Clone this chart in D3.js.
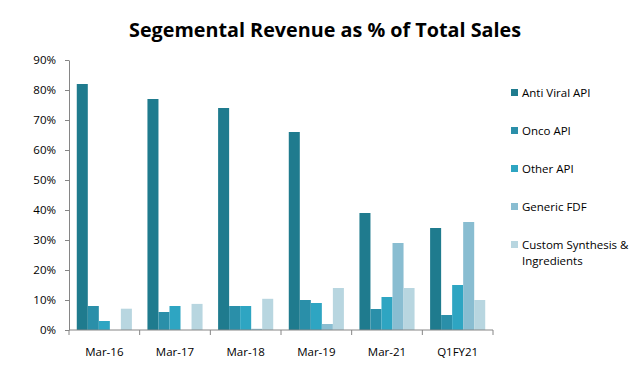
<!DOCTYPE html>
<html>
<head>
<meta charset="utf-8">
<script src="https://cdn.jsdelivr.net/npm/d3@7"></script>
<style>
  body { margin: 0; background: #fff; }
  text { font-family: "Open Sans", "Liberation Sans", sans-serif; }
</style>
</head>
<body>
<div id="mychart"></div>
<script>
// data (% of total sales)
var periods = ["Mar-16", "Mar-17", "Mar-18", "Mar-19", "Mar-21", "Q1FY21"];
var segments = ["Anti Viral API", "Onco API", "Other API", "Generic FDF", "Custom Synthesis & Ingredients"];
var antiViral = [82, 77, 74, 66, 39, 34];
var onco      = [8, 6, 8, 10, 7, 5];
var otherApi  = [3, 8, 8, 9, 11, 15];
var generic   = [0, 0, 0.4, 2, 29, 36];
var custom    = [7.1, 8.7, 10.4, 14, 14, 10];
var yTicks = [0, 10, 20, 30, 40, 50, 60, 70, 80, 90];
var colors = ["#1f7b8e", "#2a8fa9", "#2ea5c2", "#89bdd1", "#b8d6e0"];

var series = [antiViral, onco, otherApi, generic, custom];

var W = 639, H = 373;
var margin = {left: 69, right: 146, top: 60, bottom: 43};
var width = W - margin.left - margin.right,
    height = H - margin.top - margin.bottom;

var svg = d3.select("#mychart")
  .append("svg")
    .attr("width", W)
    .attr("height", H);

// title
svg.append("text")
  .attr("x", 325)
  .attr("y", 37)
  .attr("text-anchor", "middle")
  .attr("font-size", 20)
  .attr("font-weight", "bold")
  .attr("textLength", 392)
  .attr("lengthAdjust", "spacingAndGlyphs")
  .text("Segemental Revenue as % of Total Sales");

var g = svg.append("g")
  .attr("transform", "translate(" + margin.left + "," + margin.top + ")");

var x0 = d3.scaleBand().domain(periods).range([0, width]).paddingInner(0.22).paddingOuter(0.11);
var x1 = d3.scaleBand().domain(d3.range(segments.length)).range([0, x0.bandwidth()]);
var y = d3.scaleLinear().domain([0, 90]).range([height, 0]);

// bars
var groups = g.selectAll(".grp")
  .data(periods)
  .enter().append("g")
    .attr("class", "grp")
    .attr("transform", function(d) { return "translate(" + x0(d) + ",0)"; });

groups.selectAll("rect")
  .data(function(d, i) { return series.map(function(s, k) { return {k: k, v: s[i]}; }); })
  .enter().append("rect")
    .attr("x", function(d) { return x1(d.k); })
    .attr("width", x1.bandwidth())
    .attr("y", function(d) { return y(d.v); })
    .attr("height", function(d) { return height - y(d.v); })
    .attr("fill", function(d) { return colors[d.k]; });

// y axis
var yAxis = g.append("g")
  .call(d3.axisLeft(y).tickValues(yTicks).tickSize(4).tickSizeOuter(0).tickFormat(function(d) { return d + "%"; }));
yAxis.select(".domain").attr("stroke", "#868686");
yAxis.selectAll(".tick line").attr("stroke", "#868686");
yAxis.selectAll(".tick text").attr("x", -13).attr("font-size", 11.5).attr("fill", "#000")
  .style("font-family", "'Open Sans', sans-serif");

// x axis with ticks at category boundaries
var step = width / periods.length;
var xa = g.append("g").attr("transform", "translate(0," + height + ")");
xa.append("line").attr("x1", 0).attr("x2", width).attr("stroke", "#868686");
xa.selectAll(".bt")
  .data(d3.range(periods.length + 1))
  .enter().append("line")
    .attr("x1", function(d) { return d * step; })
    .attr("x2", function(d) { return d * step; })
    .attr("y1", 0).attr("y2", 5)
    .attr("stroke", "#868686");
xa.selectAll(".lbl")
  .data(periods)
  .enter().append("text")
    .attr("x", function(d) { return x0(d) + x0.bandwidth() / 2; })
    .attr("y", 26)
    .attr("text-anchor", "middle")
    .attr("font-size", 11.5)
    .text(function(d) { return d; });

// legend
var legend = svg.append("g").attr("transform", "translate(511,0)");
var legY = [93, 131, 169, 207, 245];
segments.forEach(function(s, i) {
  legend.append("rect")
    .attr("x", 0).attr("y", legY[i] - 4)
    .attr("width", 7).attr("height", 7)
    .attr("fill", colors[i]);
  var t = legend.append("text")
    .attr("x", 11).attr("y", legY[i] + 4)
    .attr("font-size", 11.5);
  if (i === 4) {
    t.append("tspan").attr("x", 11).text("Custom Synthesis &");
    t.append("tspan").attr("x", 11).attr("dy", 16).text("Ingredients");
  } else {
    t.text(s);
  }
});
</script>
</body>
</html>
